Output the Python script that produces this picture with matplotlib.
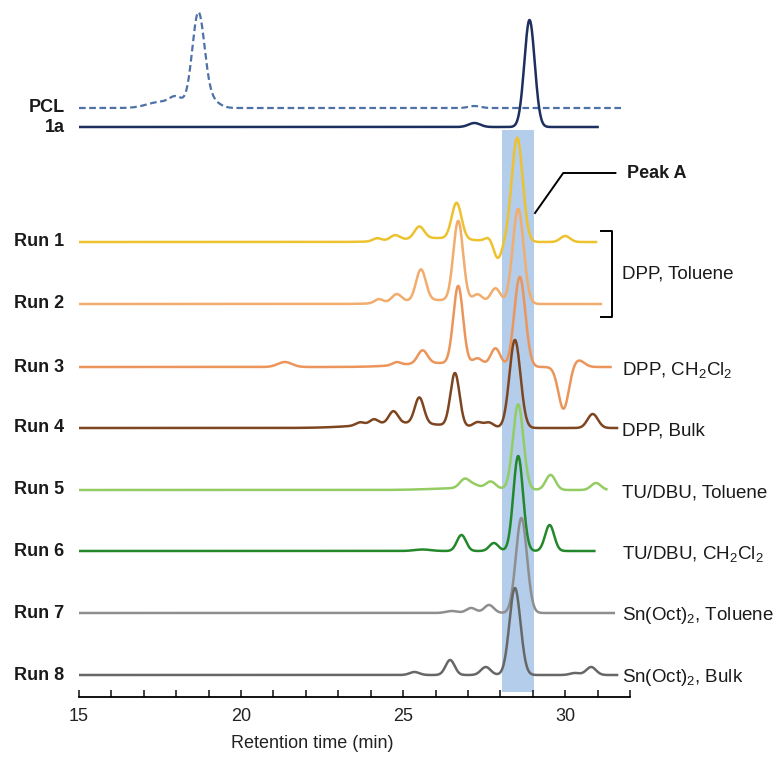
import numpy as np
import matplotlib.pyplot as plt

plt.rcParams['font.family'] = ['Liberation Sans', 'DejaVu Sans']
plt.rcParams['mathtext.default'] = 'regular'

# Peaks: (retention time [min], height [a.u.], width [min])
pcl_peaks = [(17.5, 6, 0.4), (18.0, 9, 0.2), (18.68, 93, 0.19), (19.05, 8, 0.25), (27.2, 2, 0.18)]
a1_peaks = [(27.2, 4, 0.18), (28.9, 107, 0.16)]
run1_peaks = [(24.2, 3, 0.13), (24.75, 5, 0.15), (25.5, 12, 0.15), (26.0, 4, 1.0), (26.65, 36, 0.15),
              (27.65, 4, 0.12), (27.92, -17, 0.13), (28.52, 104, 0.17), (30.0, 6, 0.15)]
run2_peaks = [(24.25, 4, 0.13), (24.8, 8, 0.15), (25.55, 31, 0.15), (26.0, 4, 1.0), (26.7, 80, 0.15),
              (27.3, 8, 0.15), (27.85, 15, 0.15), (28.55, 95, 0.17)]
run3_peaks = [(21.35, 5, 0.22), (24.8, 3, 0.13), (25.6, 13, 0.15), (26.0, 4, 1.0), (26.7, 78, 0.15),
              (27.3, 7, 0.15), (27.85, 18, 0.15), (28.6, 90, 0.17), (29.95, -42, 0.16), (30.4, 7, 0.18)]
run4_peaks = [(23.67, 3, 0.13), (24.1, 5, 0.13), (24.7, 12, 0.14), (25.0, 5, 1.2), (25.5, 26, 0.14),
              (26.6, 53, 0.14), (27.3, 5, 0.14), (27.65, 5, 0.14), (28.45, 88, 0.17), (30.85, 14, 0.16)]
run5_peaks = [(26.9, 9, 0.15), (27.2, 3, 0.15), (27.0, 2, 1.0), (27.7, 7, 0.15), (28.55, 85, 0.16),
              (29.55, 15, 0.15), (30.95, 7, 0.15)]
run6_peaks = [(25.6, 1.5, 0.25), (26.8, 16, 0.14), (27.8, 8, 0.14), (28.55, 95, 0.15), (29.52, 26, 0.14)]
run7_peaks = [(26.5, 2, 0.18), (27.1, 5, 0.15), (27.65, 8, 0.15), (28.65, 95, 0.17)]
run8_peaks = [(25.35, 3, 0.15), (26.45, 15, 0.14), (27.55, 8, 0.15), (28.45, 87, 0.17),
              (30.3, 2, 0.15), (30.8, 8, 0.15)]

# run end times [min]
end_times = [31.8, 31.0, 30.95, 31.1, 31.4, 31.6, 31.27, 30.9, 31.5, 31.6]

names = ['PCL', '1a', 'Run 1', 'Run 2', 'Run 3', 'Run 4', 'Run 5', 'Run 6', 'Run 7', 'Run 8']
conditions = [None, None, None, None, 'DPP, CH$_2$Cl$_2$', 'DPP, Bulk', 'TU/DBU, Toluene',
              'TU/DBU, CH$_2$Cl$_2$', 'Sn(Oct)$_2$, Toluene', 'Sn(Oct)$_2$, Bulk']
colors = ['#4E72A8', '#1C2F5E', '#EDC22E', '#F2AC6C', '#EC955A', '#7E4620',
          '#93CC62', '#23882A', '#8E8E8E', '#676767']
all_peaks = [pcl_peaks, a1_peaks, run1_peaks, run2_peaks, run3_peaks, run4_peaks,
             run5_peaks, run6_peaks, run7_peaks, run8_peaks]

# vertical stacking (axis units)
offsets = [589, 570, 455, 393, 330, 269, 207, 146, 84, 22]


def trace(peaks, t):
    y = np.zeros_like(t)
    for rt, h, w in peaks:
        y += h * np.exp(-0.5 * ((t - rt) / w) ** 2)
    return y


fig = plt.figure(figsize=(7.77, 7.62), dpi=100)
ax = fig.add_axes([79 / 777, 1 - 697 / 762, 551 / 777, 697 / 762])

# Peak A band
ax.axvspan(28.05, 29.05, ymin=5 / 697, ymax=567 / 697, color='#B3CDEA', lw=0, zorder=1)

for i in range(len(names)):
    t = np.linspace(15, end_times[i], 1500)
    y = offsets[i] + trace(all_peaks[i], t)
    if i == 0:
        ax.plot(t, y, color=colors[i], lw=1.6, ls=(0, (3, 1.6)), zorder=2)
    else:
        ax.plot(t, y, color=colors[i], lw=1.8, zorder=2)
    ax.text(14.55, offsets[i], names[i], ha='right', va='center', fontsize=13,
            fontweight='bold', color='#1a1a1a')
    if conditions[i]:
        ax.text(31.75, offsets[i] - 3, conditions[i], ha='left', va='center', fontsize=13.5,
                color='#1a1a1a', clip_on=False)

# bracket for Run 1 / Run 2
ax.plot([31.12, 31.43, 31.43, 31.12], [466, 466, 380, 380], color='black', lw=1.4, clip_on=False)
ax.text(31.75, 423, 'DPP, Toluene', ha='left', va='center', fontsize=13.5, color='#1a1a1a')

# Peak A label
ax.plot([31.55, 29.94, 29.07], [524, 524, 484], color='black', lw=1.4, clip_on=False)
ax.text(31.9, 524, 'Peak A', ha='left', va='center', fontsize=13, fontweight='bold', color='#1a1a1a')

ax.set_xlim(15, 32)
ax.set_ylim(0, 697)
ax.set_xticks([15, 20, 25, 30])
ax.set_xticks(np.arange(15, 33, 1), minor=True)
ax.tick_params(axis='x', which='both', direction='in', length=5, width=1.2, labelsize=13,
               pad=8, colors='#222222')
ax.set_yticks([])
for s in ['top', 'right', 'left']:
    ax.spines[s].set_visible(False)
ax.spines['bottom'].set_linewidth(1.3)
ax.set_xlabel('Retention time (min)', fontsize=13, color='#222222')
ax.xaxis.set_label_coords(0.423, -0.055)
ax.patch.set_alpha(0)

plt.savefig('out.png', dpi=100)
